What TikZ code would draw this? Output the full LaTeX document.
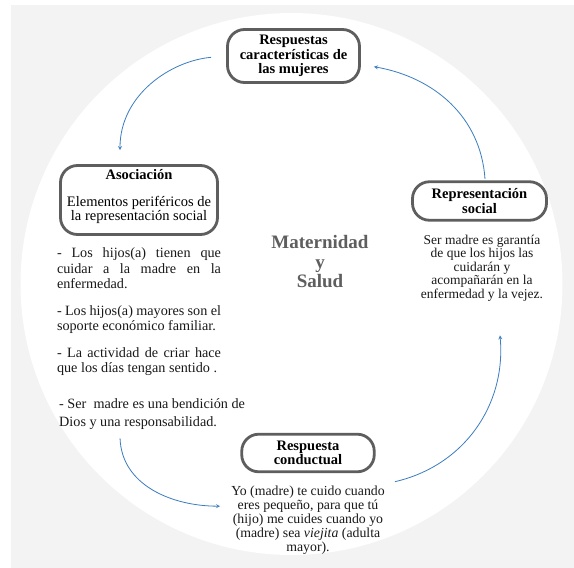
\documentclass[tikz,border=0pt]{standalone}
\usepackage{fontspec}
\setmainfont{Liberation Serif}
\usetikzlibrary{positioning, calc}
\definecolor{fondo}{HTML}{F3F3F3}
\definecolor{azul}{HTML}{3B7DC0}
\definecolor{borde}{HTML}{5E5E5E}
\tikzset{
    caja/.style={draw=borde, line width=2.8pt, rounded corners=17pt, fill=white, align=center, inner sep=2pt, font=\bfseries\fontsize{14.5}{14.5}\selectfont},
    flecha/.style={draw=azul, line width=0.8pt, ->, >=stealth},
    texto/.style={align=center, inner sep=0pt, text=black!90, font=\fontsize{13.8}{14}\selectfont},
}

\begin{document}
\begin{tikzpicture}[x=1pt, y=1pt]
    \useasboundingbox (0,0) rectangle (574,-568);
    \fill[white] (0,0) rectangle (574,-568);
    \fill[fondo] (11,-5) rectangle (574,-568);
    \fill[white] (291.5,-284) circle (271);

    \node[caja, minimum width=132pt, minimum height=53pt] (resp) at (293.5,-56) {Respuestas\\características de\\las mujeres};
    \node[caja, minimum width=157pt, minimum height=69pt, font=\fontsize{14.5}{14}\selectfont] (asoc) at (139,-200) {\textbf{Asociación}\\[13pt]Elementos periféricos de\\la representación social\\[-4pt]\mbox{}};
    \node[caja, minimum width=134pt, minimum height=38.5pt, font=\bfseries\fontsize{14.5}{15}\selectfont] (repr) at (479.5,-201) {Representación\\social};
    \node[caja, minimum width=132.5pt, minimum height=37.6pt] (conduc) at (308,-453) {Respuesta\\conductual};

    \node[align=center, text=borde, font=\bfseries\fontsize{19}{19.5}\selectfont] (centro) at (320,-262) {Maternidad\\y\\Salud};

    \node[texto, text width=164pt, align=justify, below=12pt of asoc, font=\fontsize{14.2}{15.5}\selectfont] (lista) {\hyphenpenalty=10000 - Los hijos(a) tienen que cuidar a la madre en la enfermedad.\par\vspace{11pt}- Los hijos(a) mayores son el soporte económico familiar.\par\vspace{11pt}- La actividad de criar hace que los días tengan sentido .};
    \node[texto, align=left, anchor=west, font=\fontsize{14.2}{17.5}\selectfont] (dios) at (59,-414) {- Ser\ \ madre es una bendición de\\Dios y una responsabilidad.};
    \node[texto, below=13pt of repr, xshift=2.5pt, font=\fontsize{13.5}{13.5}\selectfont] (ser) {Ser madre es garantía\\de que los hijos las\\cuidarán y\\acompañarán en la\\enfermedad y la vejez.};
    \node[texto, below=12.5pt of conduc] (yo) {Yo (madre) te cuido cuando\\eres pequeño, para que tú\\(hijo) me cuides cuando yo\\(madre) sea \textit{viejita} (adulta\\mayor).};

    \draw[flecha, shorten <=15pt] (resp.west) to[out=185, in=90] ([xshift=-19pt, yshift=14pt]asoc.north);
    \draw[flecha] ([xshift=5.5pt, yshift=1.5pt]repr.north) to[out=94, in=-10] ([xshift=13pt, yshift=-10.7pt]resp.east);
    \draw[flecha] ([xshift=10pt, yshift=4pt]yo.north east) to[out=13, in=-85] ([xshift=18pt, yshift=-34pt]ser.south);
    \draw[flecha] ([xshift=-32pt, yshift=-9pt]dios.south) to[out=-88, in=180] ([xshift=-11pt, yshift=14pt]yo.west);
\end{tikzpicture}
\end{document}
